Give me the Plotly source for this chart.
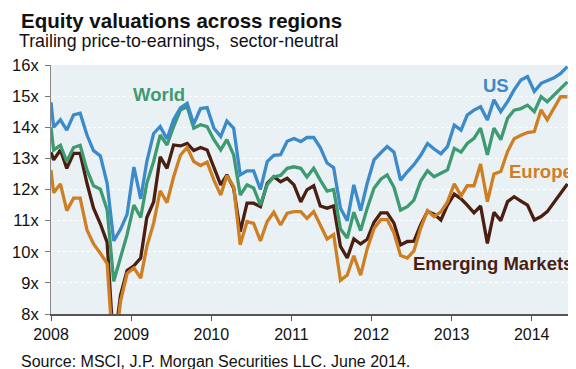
import pandas as pd
import plotly.graph_objects as go

# ---------------- data ----------------
start_date = ["2008-01-01"]
monthly_dates = list((pd.date_range("2008-01-01", periods=78, freq="MS") + pd.Timedelta(days=12)).strftime("%Y-%m-%d"))
dates = start_date + monthly_dates

us = [14.8,
      14.0, 14.24, 13.91, 14.40, 14.45, 13.75, 13.25, 13.08, 12.2, 10.35, 10.72, 11.2,
      12.72, 11.7, 12.9, 13.8, 14.02, 13.62, 14.24, 14.62, 14.77, 14.1, 14.6, 14.63,
      13.97, 13.7, 14.2, 13.97, 12.47, 12.6, 12.6, 12.0, 12.9, 13.1, 13.12, 13.55,
      13.64, 13.54, 13.67, 13.67, 13.35, 12.85, 12.7, 11.4, 11.0, 12.15, 11.32, 12.2,
      12.95, 13.18, 13.38, 13.2, 12.3, 12.57, 12.8, 13.1, 13.48, 13.3, 13.15, 13.38,
      14.07, 13.91, 14.39, 14.55, 14.66, 14.23, 14.88, 14.5, 14.82, 15.2, 15.52, 15.63,
      15.15, 15.41, 15.49, 15.59, 15.73, 15.95]

world = [14.0,
         13.27, 13.42, 12.9, 13.35, 13.42, 12.63, 12.12, 12.01, 11.35, 9.05, 9.8, 10.55,
         11.5, 11.1, 12.2, 12.9, 13.75, 13.43, 14.02, 14.55, 14.66, 13.97, 14.08, 14.02,
         13.6, 13.27, 13.6, 13.11, 11.82, 12.15, 12.05, 11.5, 12.15, 12.41, 12.45, 12.68,
         12.73, 12.68, 12.4, 12.68, 12.3, 11.95, 12.0, 10.73, 10.44, 11.27, 10.68, 11.4,
         12.04, 12.33, 12.47, 12.07, 11.34, 11.45, 11.66, 12.27, 12.6, 12.41, 12.52, 12.63,
         13.32, 13.2, 13.48, 13.64, 13.97, 13.11, 13.97, 13.6, 14.29, 14.55, 14.6, 14.71,
         14.5, 14.98, 14.82, 15.04, 15.25, 15.46]

emerging = [13.2,
            12.95, 13.27, 12.68, 13.16, 13.16, 12.2, 11.4, 10.9, 10.3, 6.9, 8.6, 9.4,
            9.55, 9.8, 11.1, 11.6, 13.05, 12.68, 13.43, 13.4, 13.48, 13.25, 13.35, 13.27,
            12.68, 12.15, 12.47, 12.04, 10.65, 11.56, 11.56, 11.45, 12.2, 12.41, 12.25, 12.36,
            12.15, 11.6, 11.99, 12.12, 11.47, 11.4, 11.47, 10.17, 9.8, 10.41, 10.25, 10.4,
            10.95, 11.25, 11.25, 10.92, 10.22, 10.33, 10.34, 10.87, 11.3, 11.21, 11.02, 11.5,
            11.85, 11.7, 11.5, 11.25, 11.47, 10.27, 11.27, 11.0, 11.61, 11.77, 11.63, 11.5,
            11.02, 11.13, 11.29, 11.58, 11.85, 12.18]

europe = [12.63,
          11.9, 12.18, 11.32, 11.72, 11.72, 10.7, 10.25, 9.95, 9.62, 6.5, 8.4, 9.3,
          9.48, 9.15, 10.17, 10.92, 11.96, 11.58, 12.4, 13.1, 13.35, 12.9, 12.77, 12.88,
          12.3, 11.82, 12.45, 12.09, 10.22, 10.97, 10.91, 10.35, 10.97, 11.27, 10.86, 11.24,
          11.29, 11.29, 11.07, 11.29, 10.84, 10.41, 10.55, 9.08, 9.25, 9.87, 9.25, 10.1,
          10.75, 11.03, 11.04, 10.6, 9.88, 9.8, 10.03, 10.76, 11.32, 11.13, 11.28, 11.6,
          12.18, 11.8, 12.12, 12.12, 12.82, 11.61, 12.5, 12.58, 13.22, 13.63, 13.74, 13.83,
          13.86, 14.56, 14.24, 14.63, 14.98, 14.98]

y_ticks = [8, 9, 10, 11, 12, 13, 14, 15, 16]
y_tick_labels = [f"{v}x" for v in y_ticks]

title_text = "Equity valuations across regions"
subtitle_text = "Trailing price-to-earnings,  sector-neutral"
source_text = "Source: MSCI, J.P. Morgan Securities LLC. June 2014."

# ---------------- styling ----------------
W, H = 576, 369
ML, MR, MT, MB = 43, 10, 57, 63
PW, PH = W - ML - MR, H - MT - MB

C_US = "#3B8AC9"
C_WORLD = "#3E9A71"
C_EUROPE = "#CF7F23"
C_EM = "#4A1E10"
FONT = "Liberation Sans, Arial, sans-serif"


def px_x(px):
    return (px - ML) / PW


def px_y(py):
    return (H - MB - py) / PH


fig = go.Figure()
for name, vals, col in [("Emerging Markets", emerging, C_EM),
                        ("Europe", europe, C_EUROPE),
                        ("World", world, C_WORLD),
                        ("US", us, C_US)]:
    fig.add_trace(go.Scatter(x=dates, y=vals, mode="lines", name=name,
                             line=dict(color=col, width=3.3), showlegend=False))

annotations = [
    dict(text="<b>" + title_text + "</b>", x=px_x(11), y=px_y(12.5), xanchor="left", yanchor="middle",
         font=dict(size=20.5, color="#111111", family=FONT)),
    dict(text=subtitle_text, x=px_x(8.5), y=px_y(33.5), xanchor="left", yanchor="middle",
         font=dict(size=17.8, color="#111111", family=FONT)),
    dict(text=source_text, x=px_x(11), y=px_y(353.5), xanchor="left", yanchor="middle",
         font=dict(size=16, color="#111111", family=FONT)),
    dict(text="<b>World</b>", x=px_x(151), y=px_y(86.5), xanchor="center", yanchor="middle",
         font=dict(size=18.5, color=C_WORLD, family=FONT)),
    dict(text="<b>US</b>", x=px_x(488), y=px_y(77), xanchor="center", yanchor="middle",
         font=dict(size=18.5, color=C_US, family=FONT)),
    dict(text="<b>Europe</b>", x=px_x(567), y=px_y(163), xanchor="right", yanchor="middle",
         font=dict(size=18.5, color=C_EUROPE, family=FONT)),
    dict(text="<b>Emerging Markets</b>", x=px_x(567), y=px_y(255.5), xanchor="right", yanchor="middle",
         font=dict(size=18.5, color=C_EM, family=FONT)),
]
for a in annotations:
    a.update(xref="paper", yref="paper", showarrow=False)

fig.update_layout(
    width=W, height=H,
    margin=dict(l=ML, r=MR, t=MT, b=MB, pad=0, autoexpand=False),
    paper_bgcolor="white",
    plot_bgcolor="#EAF1F5",
    font=dict(family=FONT, color="#111111", size=16),
    annotations=annotations,
    xaxis=dict(type="date", range=["2008-01-01", "2014-07-13"],
               tick0="2008-01-01", dtick="M12", tickformat="%Y",
               ticks="outside", ticklen=5, tickwidth=1, tickcolor="#555555",
               showline=True, linecolor="#555555", linewidth=2,
               showgrid=False, zeroline=False, fixedrange=True, automargin=False,
               tickfont=dict(size=16)),
    yaxis=dict(range=[8, 16], tickvals=y_ticks, ticktext=y_tick_labels,
               ticks="outside", ticklen=5, tickwidth=1, tickcolor="#777777",
               showline=True, linecolor="#888888", linewidth=1,
               showgrid=True, gridcolor="white", gridwidth=1, griddash="dot",
               zeroline=False, fixedrange=True, automargin=False,
               tickfont=dict(size=16.5), ticklabelstandoff=3),
)

fig.write_html("out.html")
